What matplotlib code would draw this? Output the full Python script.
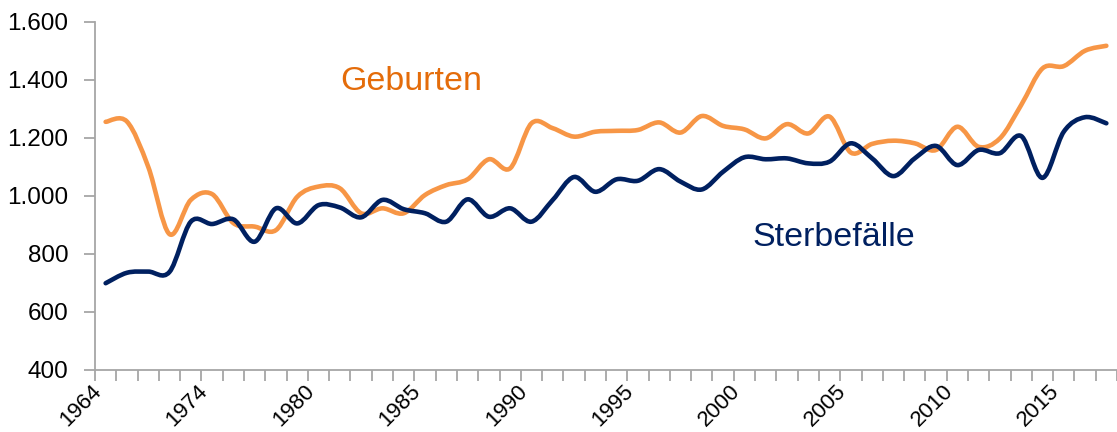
import matplotlib.pyplot as plt
import numpy as np
from matplotlib.path import Path
from matplotlib.patches import PathPatch

plt.rcParams['font.family'] = ['Liberation Sans', 'DejaVu Sans']

# values (in thousands, German number format on axis)
geburten = [1255, 1256, 1100, 868, 986, 1006, 906, 894, 882, 997,
            1032, 1026, 940, 957, 940, 1003, 1037, 1057, 1126, 1095,
            1250, 1233, 1204, 1221, 1224, 1227, 1253, 1218, 1275, 1241,
            1229, 1198, 1247, 1215, 1273, 1149, 1179, 1190, 1181, 1158,
            1238, 1169, 1198, 1313, 1439, 1447, 1500, 1517]
sterbefaelle = [699, 735, 739, 738, 911, 903, 919, 842, 957, 905,
                968, 960, 926, 986, 954, 940, 911, 988, 928, 957,
                911, 986, 1065, 1014, 1057, 1052, 1092, 1049, 1022, 1083,
                1133, 1126, 1129, 1112, 1118, 1181, 1129, 1068, 1129, 1172,
                1106, 1158, 1147, 1206, 1062, 1221, 1271, 1250]
label_pos = [0, 5, 10, 15, 20, 25, 30, 35, 40, 45]
label_txt = ["1964", "1974", "1980", "1985", "1990", "1995", "2000", "2005", "2010", "2015"]
y_ticks = [400, 600, 800, 1000, 1200, 1400, 1600]

orange = "#F79646"
navy = "#002060"
grey = "#A6A6A6"


def smooth_path(xs, ys):
    # Excel-style smoothed line: cubic bezier through every point
    pts = np.column_stack([xs, ys]).astype(float)
    verts = [pts[0]]
    codes = [Path.MOVETO]
    n = len(pts)
    for i in range(n - 1):
        p0 = pts[i - 1] if i > 0 else pts[i]
        p1 = pts[i]
        p2 = pts[i + 1]
        p3 = pts[i + 2] if i + 2 < n else pts[i + 1]
        c1 = p1 + (p2 - p0) / 6.0
        c2 = p2 - (p3 - p1) / 6.0
        verts += [c1, c2, p2]
        codes += [Path.CURVE4] * 3
    return Path(verts, codes)


fig = plt.figure(figsize=(11.17, 4.32), dpi=100)
ax = fig.add_axes([95 / 1117, 62 / 432, 1 - 95 / 1117, 348.3 / 432])

x = np.arange(len(geburten))
for vals, col in [(geburten, orange), (sterbefaelle, navy)]:
    ax.add_patch(PathPatch(smooth_path(x, vals), facecolor="none", edgecolor=col,
                           lw=3.3, capstyle="round", joinstyle="round"))

ax.set_xlim(-0.5, -0.5 + (1117 - 95) / 21.5)
ax.set_ylim(400, 1600)

ax.set_yticks(y_ticks)
ax.set_yticklabels([f"{v:,}".replace(",", ".") for v in y_ticks])
ax.tick_params(axis="y", length=8, width=1.3, color=grey, pad=11, labelsize=17.5)

# ticks between categories, labels on selected categories
ax.set_xticks(np.arange(-0.5, len(geburten) + 0.5, 1))
ax.set_xticklabels([])
ax.tick_params(axis="x", which="major", length=8, width=1.3, color=grey)
ax.set_xticks(label_pos, minor=True)
ax.set_xticklabels(label_txt, minor=True)
ax.tick_params(axis="x", which="minor", length=0, pad=18.5, labelsize=16)
plt.setp(ax.get_xticklabels(minor=True), rotation=45, ha="right", va="bottom",
         rotation_mode="anchor")

for s in ["top", "right"]:
    ax.spines[s].set_visible(False)
for s in ["left", "bottom"]:
    ax.spines[s].set_color(grey)
    ax.spines[s].set_linewidth(1.3)

fig.text(340 / 1117, 1 - 82 / 432, "Geburten", color="#E46C0A", fontsize=24.5,
         va="center", ha="left")
fig.text(752 / 1117, 1 - 237 / 432, "Sterbefälle", color=navy, fontsize=24.5,
         va="center", ha="left")

plt.savefig("out.png", dpi=100)
